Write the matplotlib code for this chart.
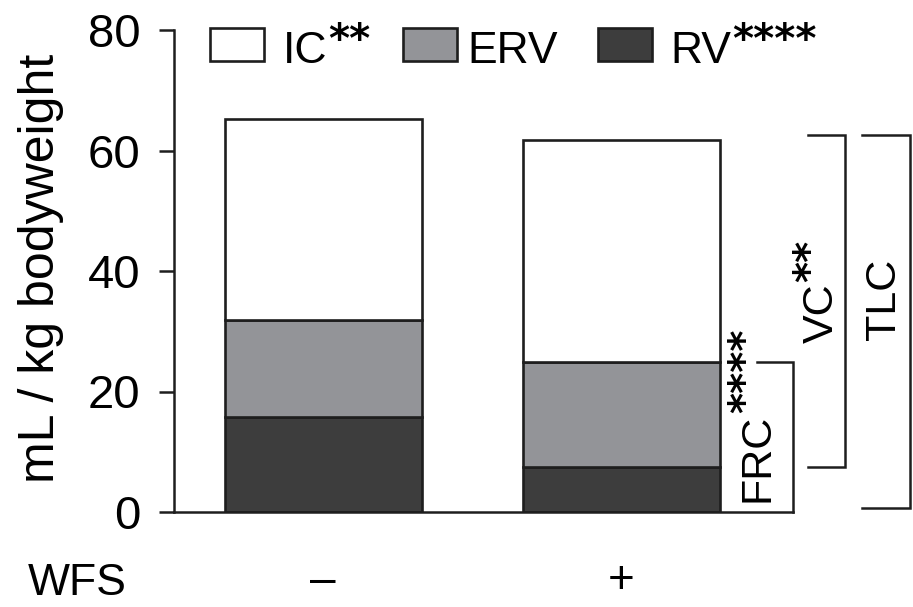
import matplotlib
matplotlib.use("Agg")
import matplotlib.pyplot as plt
from matplotlib.patches import Rectangle

# ---- data ----
categories = ["\u2013", "+"]          # WFS - / +
ic = [33.4, 36.8]
erv = [16.1, 17.4]
rv = [15.8, 7.5]
series_names = ["IC", "ERV", "RV"]
series_stars = ["**", "", "****"]
yticks = [0, 20, 40, 60, 80]
bracket_top = 62.6
tlc_bottom = 0.7

colors = {"IC": "#ffffff", "ERV": "#939498", "RV": "#3d3d3d"}
edge = "#1e1e1e"
FONT = ["Liberation Sans", "DejaVu Sans"]
plt.rcParams["font.family"] = FONT

W, H = 913, 607
fig = plt.figure(figsize=(W / 100, H / 100), dpi=100)


def fx(x):
    return x / W


def fy(y):
    return 1 - y / H


ax = fig.add_axes([fx(174), fy(512), (793 - 174) / W, (512 - 30) / H])

x = list(range(len(categories)))
bw = 0.661
lw = 1.9
ax.bar(x, rv, width=bw, color=colors["RV"], edgecolor=edge, linewidth=lw, zorder=2)
b2 = [r for r in rv]
ax.bar(x, erv, width=bw, bottom=b2, color=colors["ERV"], edgecolor=edge, linewidth=lw, zorder=2)
b3 = [r + e for r, e in zip(rv, erv)]
ax.bar(x, ic, width=bw, bottom=b3, color=colors["IC"], edgecolor=edge, linewidth=lw, zorder=2)

ax.set_xlim(-0.5, 1.577)
ax.set_ylim(0, 80)
for s in ["top", "right"]:
    ax.spines[s].set_visible(False)
for s in ["left", "bottom"]:
    ax.spines[s].set_linewidth(1.8)
    ax.spines[s].set_color(edge)

ax.set_yticks(yticks)
ax.tick_params(axis="y", length=11, width=1.8, pad=13, labelsize=34, color=edge)
ax.set_xticks(x)
ax.set_xticklabels(categories)
ax.tick_params(axis="x", length=0, pad=34, labelsize=33)

# y label
fig.text(fx(54), fy(268), "mL / kg bodyweight", rotation=90, rotation_mode="anchor",
         ha="center", va="baseline", fontsize=36)
# WFS
fig.text(fx(28), fy(595), "WFS", ha="left", va="baseline", fontsize=32)

# brackets (data coords)
frc_top = rv[1] + erv[1]
blw = 1.8
ax.plot([1.456, 1.577, 1.577], [frc_top, frc_top, 0], color=edge, lw=blw, clip_on=False,
        solid_joinstyle="miter")
ax.plot([1.628, 1.752, 1.752, 1.628], [bracket_top, bracket_top, rv[1], rv[1]], color=edge,
        lw=blw, clip_on=False, solid_joinstyle="miter")
ax.plot([1.809, 1.97, 1.97, 1.809], [bracket_top, bracket_top, tlc_bottom, tlc_bottom],
        color=edge, lw=blw, clip_on=False, solid_joinstyle="miter")

# legend (manual)
leg_boxes = [210, 403, 598]
leg_text_x = [283, 467, 670]
for name, bx, tx in zip(series_names, leg_boxes, leg_text_x):
    fig.patches.append(Rectangle((fx(bx), fy(61)), 54 / W, 33 / H, transform=fig.transFigure,
                                 facecolor=colors[name], edgecolor=edge, linewidth=1.9))

fig.canvas.draw()
renderer = fig.canvas.get_renderer()

main_texts = []
for name, stars, tx in zip(series_names, series_stars, leg_text_x):
    t = fig.text(fx(tx), fy(63), name, ha="left", va="baseline", fontsize=32)
    main_texts.append((t, stars, "h", 63))

# rotated bracket labels
rot_labels = [("FRC", "****", 768, 502), ("VC", "**", 833, 343), ("TLC", "", 895, 340)]
for lab, stars, bx, by in rot_labels:
    t = fig.text(fx(bx), fy(by), lab, rotation=90, rotation_mode="anchor",
                 ha="left", va="baseline", fontsize=31)
    main_texts.append((t, stars, "v", bx))

fig.canvas.draw()
star_kw = dict(fontsize=29, fontweight="bold", family="DejaVu Sans")
for t, stars, orient, base in main_texts:
    if not stars:
        continue
    bb = t.get_window_extent(renderer)
    if orient == "h":
        sx = bb.x1 + 1
        sy = (H - base) + 11
        fig.text(sx / W, sy / H, stars, ha="left", va="baseline", **star_kw)
    else:
        sy = bb.y1 + 1
        sx = base - 11
        fig.text(sx / W, sy / H, stars, ha="left", va="baseline", rotation=90,
                 rotation_mode="anchor", **star_kw)

fig.savefig("out.png", dpi=100)
